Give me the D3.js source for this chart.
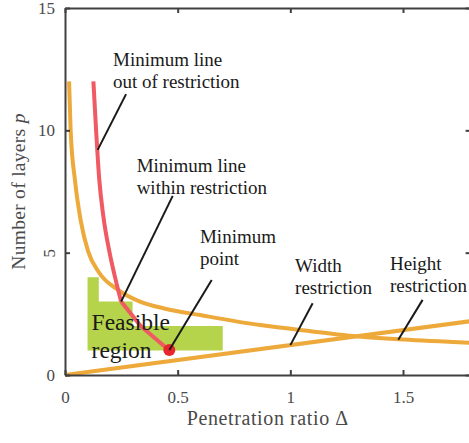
<!DOCTYPE html>
<html>
<head>
<meta charset="utf-8">
<script src="https://cdn.jsdelivr.net/npm/d3@7"></script>
<style>
  body { margin: 0; background: #fff; }
  svg { display: block; font-family: "Liberation Serif", "Times New Roman", serif; }
</style>
</head>
<body>
<div id="chart"></div>
<script>
// height restriction curve
var heightDelta = [0.018, 0.025, 0.045, 0.07, 0.103, 0.15, 0.237, 0.333, 0.45, 0.6, 0.866, 1.13, 1.28, 1.5, 1.8];
var heightP     = [12, 10, 7.9, 6.3, 5.04, 4.2, 3.47, 3.0, 2.7, 2.45, 2.04, 1.75, 1.59, 1.45, 1.32];

// width restriction line
var widthDelta = [0, 1.8];
var widthP     = [0, 2.2];

// minimum line, out of restriction / within restriction
var outDelta    = [0.126, 0.138, 0.152, 0.17, 0.197, 0.222, 0.249];
var outP        = [12, 10, 8, 6.5, 5.04, 4, 3];
var withinDelta = [0.249, 0.336, 0.463];
var withinP     = [3, 2, 1];

// minimum point
var minPoint = [0.463, 1.02];

// feasible region steps
var feasDelta  = [0.1, 0.15, 0.3, 0.7];
var feasTop    = [4, 3, 2];
var feasBottom = 1;

var xTicks = [0, 0.5, 1, 1.5];
var xTickLabels = ["0", "0.5", "1", "1.5"];
var yTicks = [0, 5, 10, 15];
var yTickLabels = ["0", "5", "10", "15"];

var W = 469, H = 443;
var margin = {top: 8, left: 65, bottom: 68};

var svg = d3.select("#chart").append("svg")
  .attr("width", W)
  .attr("height", H);

var x = d3.scaleLinear().domain([0, 1.8]).range([margin.left, 470.6]);
var y = d3.scaleLinear().domain([0, 15]).range([H - margin.bottom, margin.top]);

var axisColor = "#404040";

// feasible region
var feas = [[feasDelta[0], feasBottom]];
feasTop.forEach(function(t, i) {
  feas.push([feasDelta[i], t]);
  feas.push([feasDelta[i + 1], t]);
});
feas.push([feasDelta[feasDelta.length - 1], feasBottom]);

svg.append("path")
  .attr("d", d3.line().x(function(d) { return x(d[0]); }).y(function(d) { return y(d[1]); })(feas) + "Z")
  .attr("fill", "#b5d44b");

var zip = function(a, b) { return a.map(function(v, i) { return [v, b[i]]; }); };

var lineSmooth = d3.line()
  .x(function(d) { return x(d[0]); })
  .y(function(d) { return y(d[1]); })
  .curve(d3.curveMonotoneX);
var lineStraight = d3.line()
  .x(function(d) { return x(d[0]); })
  .y(function(d) { return y(d[1]); });

// restrictions
svg.append("path")
  .attr("d", lineSmooth(zip(heightDelta, heightP)))
  .attr("fill", "none").attr("stroke", "#eda93a").attr("stroke-width", 4);
svg.append("path")
  .attr("d", lineStraight(zip(widthDelta, widthP)))
  .attr("fill", "none").attr("stroke", "#eda93a").attr("stroke-width", 4);

// minimum line
svg.append("path")
  .attr("d", lineSmooth(zip(outDelta, outP)))
  .attr("fill", "none").attr("stroke", "#f05a62").attr("stroke-width", 4);
svg.append("path")
  .attr("d", lineStraight(zip(withinDelta, withinP)))
  .attr("fill", "none").attr("stroke", "#f05a62").attr("stroke-width", 4)
  .attr("stroke-linejoin", "round");

svg.append("circle")
  .attr("cx", x(minPoint[0]))
  .attr("cy", y(minPoint[1]))
  .attr("r", 6)
  .attr("fill", "#e8262b");

// axes
var xAxis = svg.append("g")
  .attr("transform", "translate(0," + y(0) + ")")
  .call(d3.axisBottom(x).tickValues(xTicks)
    .tickFormat(function(d, i) { return xTickLabels[i]; })
    .tickSizeInner(-5).tickSizeOuter(0).tickPadding(16));
var xTop = svg.append("g")
  .attr("transform", "translate(0," + y(15) + ")")
  .call(d3.axisTop(x).tickValues(xTicks).tickFormat("").tickSizeInner(-5).tickSizeOuter(0));
var yAxis = svg.append("g")
  .attr("transform", "translate(" + x(0) + ",0)")
  .call(d3.axisLeft(y).tickValues(yTicks)
    .tickFormat(function(d, i) { return yTickLabels[i]; })
    .tickSizeInner(-5).tickSizeOuter(0).tickPadding(10));
var yRight = svg.append("g")
  .attr("transform", "translate(" + x(1.8) + ",0)")
  .call(d3.axisRight(y).tickValues(yTicks).tickFormat("").tickSizeInner(-5).tickSizeOuter(0));

[xAxis, xTop, yAxis, yRight].forEach(function(g) {
  g.selectAll("path, line").attr("stroke", axisColor).attr("stroke-width", 2);
  g.selectAll("text").attr("fill", "#4a4a4a")
    .style("font-family", "Liberation Serif").style("font-size", "17px");
});

// "5" label is drawn sideways in the original
yAxis.selectAll(".tick text")
  .filter(function(d) { return d === 5; })
  .attr("transform", "rotate(-90,-15,0)")
  .attr("x", -15)
  .attr("text-anchor", "middle");

// axis titles
svg.append("text")
  .attr("x", (x(0) + x(1.8)) / 2)
  .attr("y", 425)
  .attr("text-anchor", "middle")
  .attr("fill", "#4a4a4a")
  .style("font-size", "20px")
  .style("letter-spacing", "0.6px")
  .text("Penetration ratio \u0394");

var yt = svg.append("text")
  .attr("transform", "translate(25," + ((y(0) + y(15)) / 2) + ") rotate(-90)")
  .attr("text-anchor", "middle")
  .attr("fill", "#4a4a4a")
  .style("font-size", "19.5px")
  .style("letter-spacing", "0.3px");
yt.append("tspan").text("Number of layers ");
yt.append("tspan").style("font-style", "italic").text("p");

// annotations: text position and leader line in data units
var notes = [
  {lines: ["Minimum line", "out of restriction"], at: [0.213, 12.63], from: [0.271, 11.48], to: [0.145, 9.2]},
  {lines: ["Minimum line", "within restriction"], at: [0.318, 8.30], from: [0.478, 7.32], to: [0.249, 3]},
  {lines: ["Minimum", "point"], at: [0.599, 5.40], from: [0.651, 3.88], to: minPoint},
  {lines: ["Width", "restriction"], at: [1.021, 4.21], from: [1.099, 2.93], to: [1.0, 1.22]},
  {lines: ["Height", "restriction"], at: [1.442, 4.29], from: [1.587, 3.07], to: [1.479, 1.44]}
];

notes.forEach(function(n) {
  svg.append("line")
    .attr("x1", x(n.from[0])).attr("y1", y(n.from[1]))
    .attr("x2", x(n.to[0])).attr("y2", y(n.to[1]))
    .attr("stroke", "#1a1a1a").attr("stroke-width", 2);
  var t = svg.append("text")
    .attr("x", x(n.at[0]))
    .attr("y", y(n.at[1]))
    .attr("fill", "#1a1a1a")
    .style("font-size", "19px");
  n.lines.forEach(function(s, i) {
    t.append("tspan").attr("x", x(n.at[0])).attr("dy", i ? 22 : 0).text(s);
  });
});

var ft = svg.append("text")
  .attr("x", x(0.118))
  .attr("y", y(1.84))
  .attr("fill", "#1a1a1a")
  .style("font-size", "23.5px");
ft.append("tspan").attr("x", x(0.118)).text("Feasible");
ft.append("tspan").attr("x", x(0.118)).attr("dy", 28).text("region");
</script>
</body>
</html>
